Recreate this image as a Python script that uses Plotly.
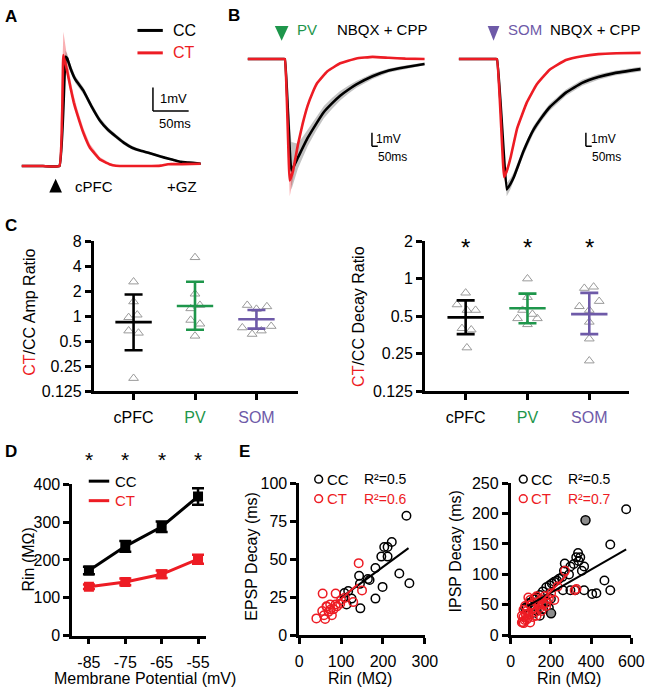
import numpy as np
import plotly.graph_objects as go

W, H = 660, 696
RED = "#ed1c24"
GREEN = "#1e964b"
PURPLE = "#6e5aa8"
GRAY = "#9a9a9a"
FONT = "Arial, Liberation Sans, Helvetica, sans-serif"

# ---------------- A: cPFC-evoked EPSP (ms, mV)
a_cc_t = [0, 30, 53, 61.7, 64, 68.5, 75.3, 86.8, 98, 109.4, 121, 132.2, 143, 154.9, 166, 177.5, 189, 200.3, 212, 223, 234, 245.6, 251]
a_cc_v = [0, 0, 0, 4.67, 4.6, 4.18, 3.7, 3.21, 2.55, 1.96, 1.55, 1.26, 1.0, 0.78, 0.66, 0.57, 0.46, 0.36, 0.27, 0.18, 0.15, 0.12, 0.1]
a_cc_sem = [0.03, 0.03, 0.03, 0.25, 0.2, 0.18, 0.15, 0.14, 0.13, 0.12, 0.11, 0.1, 0.09, 0.08, 0.07, 0.06, 0.05, 0.05, 0.04, 0.04, 0.04, 0.04, 0.04]
a_ct_t = [0, 30, 53, 58.6, 64, 68.5, 73.1, 77.7, 86.8, 95.8, 109.4, 123, 132.2, 150, 175, 195, 205, 225, 251]
a_ct_v = [0, 0, 0, 4.74, 4.04, 3.35, 2.72, 2.24, 1.40, 0.78, 0.29, 0.08, 0.01, 0, 0, 0.02, 0.08, 0.08, 0.1]
a_ct_up = [0.03, 0.03, 0.03, 1.0, 0.6, 0.35, 0.3, 0.25, 0.2, 0.16, 0.1, 0.06, 0.04, 0.03, 0.03, 0.03, 0.03, 0.03, 0.03]
a_ct_lo = [0.03, 0.03, 0.03, 0.2, 0.15, 0.12, 0.1, 0.1, 0.08, 0.06, 0.05, 0.04, 0.03, 0.03, 0.03, 0.03, 0.03, 0.03, 0.03]

# ---------------- B: PV / SOM IPSPs (ms, mV)
b1_cc_t = [0, 300, 319, 375, 431, 514, 583, 653, 722, 792, 861, 931, 1069, 1208, 1347, 1514]
b1_cc_v = [0, 0, 0, -8.17, -7.21, -5.78, -4.8, -3.88, -3.25, -2.69, -2.25, -1.86, -1.26, -0.84, -0.60, -0.36]
b1_cc_up = [0.03, 0.03, 0.03, 2.1, 1.0, 0.6, 0.5, 0.45, 0.4, 0.35, 0.3, 0.25, 0.2, 0.15, 0.12, 0.1]
b1_cc_lo = [0.03, 0.03, 0.03, 1.4, 0.8, 0.6, 0.5, 0.45, 0.4, 0.35, 0.3, 0.25, 0.2, 0.15, 0.12, 0.1]
b1_ct_t = [0, 300, 319, 361, 389, 431, 472, 514, 556, 597, 681, 792, 931, 1069, 1208, 1350, 1514]
b1_ct_v = [0, 0, 0, -8.89, -8.17, -6.26, -4.71, -3.41, -2.46, -1.74, -0.91, -0.31, 0.04, 0.16, 0.09, 0.03, 0]
b1_ct_up = [0.03, 0.03, 0.03, 0.2, 0.15, 0.12, 0.1, 0.1, 0.08, 0.06, 0.05, 0.04, 0.03, 0.03, 0.03, 0.03, 0.03]
b1_ct_lo = [0.03, 0.03, 0.03, 1.15, 0.6, 0.3, 0.2, 0.15, 0.1, 0.08, 0.06, 0.05, 0.04, 0.03, 0.03, 0.03, 0.03]

b2_cc_t = [0, 300, 327, 411, 444, 472, 555, 639, 708, 778, 917, 1056, 1194, 1333, 1556]
b2_cc_v = [0, 0, 0, -9.55, -9.12, -8.64, -6.74, -5.19, -4.3, -3.53, -2.46, -1.74, -1.31, -1.03, -0.74]
b2_cc_sem = [0.03, 0.03, 0.03, 0.5, 0.4, 0.35, 0.3, 0.28, 0.26, 0.25, 0.23, 0.22, 0.2, 0.18, 0.17]
b2_ct_t = [0, 300, 327, 389, 417, 444, 500, 583, 667, 778, 917, 1056, 1194, 1350, 1556]
b2_ct_v = [0, 0, 0, -8.64, -8.05, -7.21, -5.07, -3.17, -1.86, -0.78, -0.07, 0.21, 0.36, 0.42, 0.45]
b2_ct_sem = [0.03, 0.03, 0.03, 0.35, 0.25, 0.15, 0.1, 0.08, 0.06, 0.05, 0.04, 0.04, 0.04, 0.04, 0.04]

# ---------------- C: CT/CC ratios
groups = ["cPFC", "PV", "SOM"]
amp_cpfc = [2.6, 1.5, 0.97, 1.04, 0.67, 0.63, 0.18]
amp_cpfc_jit = [0, 0, -0.08, 0.06, -0.08, 0.08, 0]
amp_pv = [5.1, 1.86, 1.36, 1.24, 0.9, 0.81, 0.58]
amp_pv_jit = [0, 0, 0.08, -0.07, -0.07, 0.08, 0]
amp_som = [1.36, 1.31, 1.22, 0.73, 0.76, 0.61, 0.67]
amp_som_jit = [-0.15, 0.17, 0, -0.23, 0.24, -0.07, 0.08]
amp_mean = [0.85, 1.33, 0.92]
amp_lo = [0.39, 0.69, 0.71]
amp_hi = [1.83, 2.6, 1.19]

dec_cpfc = [0.77, 0.62, 0.56, 0.56, 0.40, 0.39, 0.28]
dec_cpfc_jit = [0, -0.14, 0.16, 0.02, -0.06, 0.09, 0.02]
dec_pv = [1.0, 0.71, 0.56, 0.52, 0.48, 0.48, 0.43]
dec_pv_jit = [0, 0, -0.08, 0.08, -0.16, 0.16, 0]
dec_som = [0.84, 0.86, 0.66, 0.60, 0.56, 0.45, 0.33, 0.22]
dec_som_jit = [-0.08, 0.07, 0.16, -0.16, 0, 0, 0, 0]
dec_mean = [0.49, 0.58, 0.52]
dec_lo = [0.36, 0.44, 0.36]
dec_hi = [0.67, 0.76, 0.77]

# ---------------- D: input resistance
vm = [-85, -75, -65, -55]
rin_cc = [172, 236, 288, 368]
rin_cc_err = [10, 14, 14, 22]
rin_ct = [129, 142, 162, 202]
rin_ct_err = [6, 9, 10, 12]

# ---------------- E: decay vs Rin
epsp_cc_rin = [256, 239, 263, 221, 211, 203, 211, 196, 199, 182, 182, 168, 164, 143, 145, 146, 125, 117, 108, 113]
epsp_cc_dec = [78.6, 40.6, 34.2, 61.3, 58, 58, 51.7, 51.7, 31.8, 44.2, 24.1, 36.3, 37, 39.1, 33.8, 17.7, 24.1, 29.1, 27.8, 20.3]
epsp_ct_rin = [142, 56, 87, 150, 109, 129, 98, 74, 87, 66, 55, 82, 70, 59, 78, 41, 62, 100, 65, 75, 90]
epsp_ct_dec = [47.4, 27.4, 27.4, 29.5, 24.6, 21.8, 20.7, 20.3, 20.3, 18.8, 16, 17.1, 15.4, 13.2, 13.2, 11.1, 10.7, 23.1, 19, 17, 19]
epsp_fit_cc = ([97, 261], [24.1, 57.3])
epsp_fit_ct = ([90, 140], [21.5, 33.5])

ipsp_cc_rin = [574, 495, 466, 495, 426, 405, 365, 322, 297, 260, 365, 354, 338, 326, 346, 335, 314, 297, 290, 269,
               265, 257, 241, 230, 217, 205, 193, 177, 160, 145, 130, 117, 105, 93, 80, 72, 161, 145, 113, 130,
               180, 200, 150, 120, 190]
ipsp_cc_dec = [207, 149, 90, 74, 69, 68, 74, 74, 74, 74, 113, 106, 122, 128, 128, 135, 117, 113, 100, 118,
               106, 96, 93, 90, 88, 85, 82, 79, 72, 66, 62, 59, 55, 53, 46, 45, 43, 32, 37, 40,
               55, 60, 52, 48, 45]
ipsp_gray_rin = [372, 201]
ipsp_gray_dec = [189, 36]
ipsp_ct_rin = [270, 327, 318, 233, 217, 201, 177, 169, 153, 153, 137, 129, 121, 113, 105, 97, 97, 88, 80, 80,
               72, 64, 64, 56, 56, 129, 177, 145, 190, 110, 90, 70, 60, 100, 120, 160, 140, 85, 75, 65]
ipsp_ct_dec = [106, 76, 74, 80, 58, 69, 53, 64, 40, 59, 50, 64, 61, 45, 43, 58, 21, 62, 26, 40,
               48, 42, 30, 32, 21, 32, 48, 45, 60, 30, 35, 25, 22, 50, 38, 50, 55, 28, 35, 20]
ipsp_fit_cc = ([84, 574], [48, 141])
ipsp_fit_ct = ([60, 285], [25, 101])


def px(x):
    return x / W


def py(y):
    return 1 - y / H


fig = go.Figure()


def band_trace(t, v, up, lo, color, fill, xa, ya):
    upper = [a + b for a, b in zip(v, up)]
    lower = [a - b for a, b in zip(v, lo)]
    fig.add_trace(go.Scatter(x=t + t[::-1], y=upper + lower[::-1], fill="toself", fillcolor=fill,
                             mode="lines", line=dict(width=0), xaxis=xa, yaxis=ya, hoverinfo="skip"))


def line_trace(t, v, color, xa, ya):
    fig.add_trace(go.Scatter(x=t, y=v, mode="lines", xaxis=xa, yaxis=ya,
                             line=dict(color=color, width=2.6, shape="spline", smoothing=0.3)))


GBAND = "rgba(120,120,120,0.45)"
PBAND = "rgba(237,28,36,0.35)"

# A
band_trace(a_cc_t, a_cc_v, a_cc_sem, a_cc_sem, "black", GBAND, "x", "y")
band_trace(a_ct_t, a_ct_v, a_ct_up, a_ct_lo, RED, PBAND, "x", "y")
line_trace(a_cc_t, a_cc_v, "black", "x", "y")
line_trace(a_ct_t, a_ct_v, RED, "x", "y")

# B
band_trace(b1_cc_t, b1_cc_v, b1_cc_up, b1_cc_lo, "black", GBAND, "x2", "y2")
band_trace(b1_ct_t, b1_ct_v, b1_ct_up, b1_ct_lo, RED, PBAND, "x2", "y2")
line_trace(b1_cc_t, b1_cc_v, "black", "x2", "y2")
line_trace(b1_ct_t, b1_ct_v, RED, "x2", "y2")
band_trace(b2_cc_t, b2_cc_v, b2_cc_sem, b2_cc_sem, "black", GBAND, "x3", "y3")
band_trace(b2_ct_t, b2_ct_v, b2_ct_sem, b2_ct_sem, RED, PBAND, "x3", "y3")
line_trace(b2_cc_t, b2_cc_v, "black", "x3", "y3")
line_trace(b2_ct_t, b2_ct_v, RED, "x3", "y3")

# C
gcolors = ["black", GREEN, PURPLE]


def ratio_panel(sets, jits, mean, lo, hi, xa, ya):
    for i, (vals, jit) in enumerate(zip(sets, jits)):
        fig.add_trace(go.Scatter(x=[i + j for j in jit], y=vals, mode="markers", xaxis=xa, yaxis=ya,
                                 marker=dict(symbol="triangle-up-open", size=8.5, color=GRAY,
                                             line=dict(width=1, color=GRAY))))
    for i in range(3):
        fig.add_trace(go.Scatter(
            x=[i], y=[mean[i]], mode="markers", xaxis=xa, yaxis=ya,
            marker=dict(symbol="line-ew", size=26, color=gcolors[i], line=dict(width=2.6, color=gcolors[i])),
            error_y=dict(type="data", symmetric=False, array=[hi[i] - mean[i]], arrayminus=[mean[i] - lo[i]],
                         width=9, thickness=2.6, color=gcolors[i])))


ratio_panel([amp_cpfc, amp_pv, amp_som], [amp_cpfc_jit, amp_pv_jit, amp_som_jit], amp_mean, amp_lo, amp_hi, "x4", "y4")
ratio_panel([dec_cpfc, dec_pv, dec_som], [dec_cpfc_jit, dec_pv_jit, dec_som_jit], dec_mean, dec_lo, dec_hi, "x5", "y5")

# D
fig.add_trace(go.Scatter(x=vm, y=rin_cc, mode="lines+markers", xaxis="x6", yaxis="y6",
                         line=dict(color="black", width=3),
                         marker=dict(symbol="square", size=10, color="black"),
                         error_y=dict(type="data", array=rin_cc_err, width=6, thickness=2.5, color="black")))
fig.add_trace(go.Scatter(x=vm, y=rin_ct, mode="lines+markers", xaxis="x6", yaxis="y6",
                         line=dict(color=RED, width=3),
                         marker=dict(symbol="square", size=10, color=RED),
                         error_y=dict(type="data", array=rin_ct_err, width=6, thickness=2.5, color=RED)))


# E
def scatter_panel(cc_x, cc_y, ct_x, ct_y, fit_cc, fit_ct, xa, ya, gx=None, gy=None):
    fig.add_trace(go.Scatter(x=cc_x, y=cc_y, mode="markers", xaxis=xa, yaxis=ya,
                             marker=dict(symbol="circle-open", size=8.5, color="black", line=dict(width=1.5))))
    if gx:
        fig.add_trace(go.Scatter(x=gx, y=gy, mode="markers", xaxis=xa, yaxis=ya,
                                 marker=dict(symbol="circle", size=9, color="#8c8c8c",
                                             line=dict(width=1.5, color="black"))))
    fig.add_trace(go.Scatter(x=ct_x, y=ct_y, mode="markers", xaxis=xa, yaxis=ya,
                             marker=dict(symbol="circle-open", size=8.5, color=RED, line=dict(width=1.5))))
    fig.add_trace(go.Scatter(x=fit_cc[0], y=fit_cc[1], mode="lines", xaxis=xa, yaxis=ya,
                             line=dict(color="black", width=2)))
    fig.add_trace(go.Scatter(x=fit_ct[0], y=fit_ct[1], mode="lines", xaxis=xa, yaxis=ya,
                             line=dict(color=RED, width=2)))


scatter_panel(epsp_cc_rin, epsp_cc_dec, epsp_ct_rin, epsp_ct_dec, epsp_fit_cc, epsp_fit_ct, "x7", "y7")
scatter_panel(ipsp_cc_rin, ipsp_cc_dec, ipsp_ct_rin, ipsp_ct_dec, ipsp_fit_cc, ipsp_fit_ct, "x8", "y8",
              ipsp_gray_rin, ipsp_gray_dec)

# ---------------- axes
tickfont = dict(size=16, color="black", family=FONT)
vis = dict(showline=True, linecolor="black", linewidth=2.5, ticks="outside", ticklen=6, tickwidth=2.5,
           tickcolor="black", showgrid=False, zeroline=False, tickfont=tickfont, fixedrange=True)
visx = dict(vis, ticklabelstandoff=4)
hid = dict(visible=False, fixedrange=True, showgrid=False, zeroline=False)
cat_text = ["cPFC", f"<span style='color:{GREEN}'>PV</span>", f"<span style='color:{PURPLE}'>SOM</span>"]

layout_axes = dict(
    xaxis=dict(hid, domain=[px(18), px(202)], range=[0, 251], anchor="y"),
    yaxis=dict(hid, domain=[py(170), py(15)], range=[-0.333, 6.125], anchor="x"),
    xaxis2=dict(hid, domain=[px(250), px(433)], range=[0, 1525], anchor="y2"),
    yaxis2=dict(hid, domain=[py(195), py(40)], range=[-10.19, 0.88], anchor="x2"),
    xaxis3=dict(hid, domain=[px(466.7), px(655)], range=[0, 1569], anchor="y3"),
    yaxis3=dict(hid, domain=[py(195), py(40)], range=[-10.19, 0.88], anchor="x3"),
    xaxis4=dict(visx, domain=[px(92), px(302)], range=[-0.65, 2.68], anchor="y4",
                tickvals=[0, 1, 2], ticktext=cat_text),
    yaxis4=dict(vis, type="log", domain=[py(393), py(239)], range=[np.log10(0.125), np.log10(8)], anchor="x4",
                tickvals=[0.125, 0.25, 0.5, 1, 2, 4, 8], ticktext=["0.125", "0.25", "0.5", "1", "2", "4", "8"]),
    xaxis5=dict(visx, domain=[px(432), px(642)], range=[-0.66, 2.65], anchor="y5",
                tickvals=[0, 1, 2], ticktext=cat_text),
    yaxis5=dict(vis, type="log", domain=[py(393), py(239)], range=[np.log10(0.125), np.log10(2)], anchor="x5",
                tickvals=[0.125, 0.25, 0.5, 1, 2], ticktext=["0.125", "0.25", "0.5", "1", "2"]),
    xaxis6=dict(visx, domain=[px(70), px(207)], range=[-89.6, -52.9], anchor="y6",
                tickvals=vm, ticktext=[str(v) for v in vm]),
    yaxis6=dict(vis, domain=[py(643.3), py(488.3)], range=[0, 400], anchor="x6",
                tickvals=[0, 100, 200, 300, 400]),
    xaxis7=dict(visx, domain=[px(303), px(432)], range=[0, 300], anchor="y7", tickvals=[0, 100, 200, 300]),
    yaxis7=dict(vis, domain=[py(643), py(487)], range=[0, 100], anchor="x7", tickvals=[0, 25, 50, 75, 100]),
    xaxis8=dict(visx, domain=[px(520), px(644)], range=[0, 600], anchor="y8", tickvals=[0, 200, 400, 600]),
    yaxis8=dict(vis, domain=[py(643), py(487)], range=[0, 250], anchor="x8",
                tickvals=[0, 50, 100, 150, 200, 250]),
)

# ---------------- text and decorations
ann = []


def txt(x, y, s, size=15, color="black", xa="center", angle=0, bold=False):
    if bold:
        s = "<b>" + s + "</b>"
    ann.append(dict(x=px(x), y=py(y), xref="paper", yref="paper", text=s, showarrow=False,
                    xanchor=xa, yanchor="middle", textangle=angle,
                    font=dict(size=size, color=color, family=FONT)))


shapes = []


def pline(x0, y0, x1, y1, color="black", width=3, dash=None):
    shapes.append(dict(type="line", xref="paper", yref="paper", x0=px(x0), y0=py(y0), x1=px(x1), y1=py(y1),
                       line=dict(color=color, width=width, dash=dash)))


def tri(cx, cy, w, h, up, color):
    if up:
        pts = [(cx - w / 2, cy + h / 2), (cx + w / 2, cy + h / 2), (cx, cy - h / 2)]
    else:
        pts = [(cx - w / 2, cy - h / 2), (cx + w / 2, cy - h / 2), (cx, cy + h / 2)]
    path = "M " + " L ".join(f"{px(a):.5f},{py(b):.5f}" for a, b in pts) + " Z"
    shapes.append(dict(type="path", xref="paper", yref="paper", path=path, fillcolor=color,
                       line=dict(width=0)))


def circ(cx, cy, r, color):
    shapes.append(dict(type="circle", xref="paper", yref="paper", x0=px(cx - r), x1=px(cx + r),
                       y0=py(cy + r), y1=py(cy - r), line=dict(color=color, width=1.5)))


def scalebar(xa, ya, t0, v0, dt, dv):
    shapes.append(dict(type="line", xref=xa, yref=ya, x0=t0, x1=t0, y0=v0, y1=v0 + dv,
                       line=dict(color="black", width=1.5)))
    shapes.append(dict(type="line", xref=xa, yref=ya, x0=t0, x1=t0 + dt, y0=v0, y1=v0,
                       line=dict(color="black", width=1.5)))


# panel letters
txt(7, 9, "A", 17, bold=True)
txt(236, 8, "B", 17, bold=True)
txt(7, 223, "C", 17, bold=True)
txt(7, 455, "D", 17, bold=True)
txt(247, 455, "E", 17, bold=True)

# A
pline(137, 23, 163, 23, "black", 3)
pline(137, 46, 163, 46, RED, 3)
txt(171, 23, "CC", 16, xa="left")
txt(171, 46, "CT", 16, RED, xa="left")
scalebar("x", "y", 184, 2.35, 50, 1)
txt(158, 93, "1mV", 13, xa="left")
txt(157, 118, "50ms", 13, xa="left")
tri(53, 182, 13, 14, True, "black")
txt(92, 183, "cPFC", 15)
txt(183, 183, "+GZ", 15)

# B
tri(285, 26, 14, 15, False, GREEN)
txt(311, 22, "PV", 15, GREEN)
txt(388, 22, "NBQX + CPP", 15)
tri(502.5, 26, 12, 15, False, PURPLE)
txt(535, 22, "SOM", 15, PURPLE)
txt(607, 22, "NBQX + CPP", 15)
scalebar("x2", "y2", 1064, -6.39, 50, 1)
txt(380, 134, "1mV", 12, xa="left")
txt(382, 153, "50ms", 12, xa="left")
scalebar("x3", "y3", 1088, -6.39, 50, 1)
txt(600, 134, "1mV", 12, xa="left")
txt(602, 153, "50ms", 12, xa="left")

# C
shapes.append(dict(type="line", xref="x4 domain", yref="y4", x0=0.015, x1=1, y0=0, y1=0,
                   line=dict(color="black", width=2, dash="dot")))
shapes.append(dict(type="line", xref="x5 domain", yref="y5", x0=0.015, x1=1, y0=0, y1=0,
                   line=dict(color="black", width=2, dash="dot")))
txt(26, 312, f"<span style='color:{RED}'>CT</span>/CC Amp Ratio", 16, angle=-90)
txt(364, 316, f"<span style='color:{RED}'>CT</span>/CC Decay Ratio", 16, angle=-90)
for cx in [474, 537, 601]:
    txt(cx, 245, "*", 24)

# D
for cx in [87, 124, 162, 199]:
    txt(cx, 463, "*", 21)
pline(87, 485, 108, 485, "black", 3)
pline(87, 505, 108, 505, RED, 3)
txt(112, 485, "CC", 15, xa="left")
txt(112, 505, "CT", 15, RED, xa="left")
txt(25, 565, "Rin (MΩ)", 16, angle=-90)
txt(145, 687, "Membrane Potential (mV)", 16)

# E
circ(323, 483, 4, "black")
circ(323, 503, 4, RED)
txt(329, 483, "CC", 15, xa="left")
txt(329, 503, "CT", 15, RED, xa="left")
txt(367, 483, "R²=0.5", 14, xa="left")
txt(367, 503, "R²=0.6", 14, RED, xa="left")
txt(254, 562, "EPSP Decay (ms)", 16, angle=-90)
txt(365, 687, "Rin (MΩ)", 16)

circ(533, 483, 4, "black")
circ(533, 503, 4, RED)
txt(539, 483, "CC", 15, xa="left")
txt(539, 503, "CT", 15, RED, xa="left")
txt(577, 483, "R²=0.5", 14, xa="left")
txt(577, 503, "R²=0.7", 14, RED, xa="left")
txt(463, 557, "IPSP Decay (ms)", 16, angle=-90)
txt(580, 687, "Rin (MΩ)", 16)

fig.update_layout(
    width=W, height=H, margin=dict(l=0, r=0, t=0, b=0),
    paper_bgcolor="white", plot_bgcolor="white", showlegend=False,
    font=dict(family=FONT, size=15, color="black"),
    annotations=ann, shapes=shapes, **layout_axes)

fig.write_html("out.html", config={"displayModeBar": False},
               post_script="document.body.style.margin='0';")
